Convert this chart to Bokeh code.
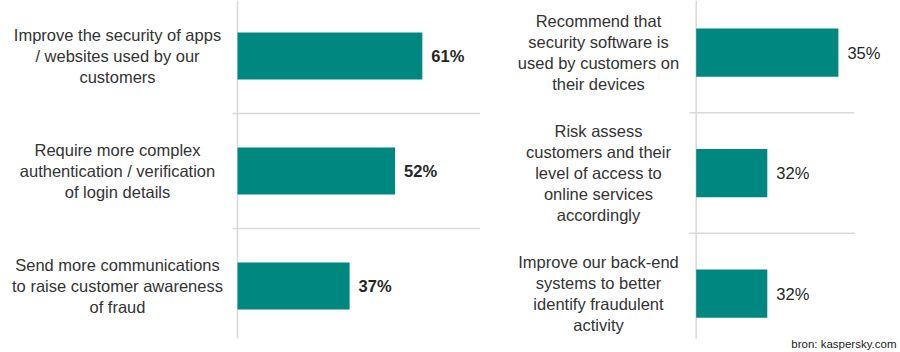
from bokeh.plotting import figure
from bokeh.layouts import row
from bokeh.models import Range1d, Label, ColumnDataSource
from bokeh.core.properties import value
from bokeh.embed import file_html
from bokeh.resources import INLINE

# ---- data ----
left_labels = [
    "Improve the security of apps\n/ websites used by our\ncustomers",
    "Require more complex\nauthentication / verification\nof login details",
    "Send more communications\nto raise customer awareness\nof fraud",
]
left_values = [61, 52, 37]

right_labels = [
    "Recommend that\nsecurity software is\nused by customers on\ntheir devices",
    "Risk assess\ncustomers and their\nlevel of access to\nonline services\naccordingly",
    "Improve our back-end\nsystems to better\nidentify fraudulent\nactivity",
]
right_values = [35, 32, 32]

source_note = "bron: kaspersky.com"

BAR = "#00877F"
GRID = "#D9D9D9"
TXT = "#333333"
VAL = "#262626"
FONT = "Liberation Sans"


def panel(labels, values, width, xr, yr, base, label_x, sep_x0, sep_x1, axis_y1,
          bar_h, val_style):
    p = figure(width=width, height=352, x_range=Range1d(*xr), y_range=Range1d(*yr),
               output_backend="svg", toolbar_location=None, min_border=0)
    p.axis.visible = False
    p.grid.visible = False
    p.outline_line_color = None
    p.background_fill_color = "white"
    p.border_fill_color = "white"
    idx = list(range(len(values)))
    src = ColumnDataSource(dict(y=idx, v=values, lab=labels,
                                vt=[f"{v}%" for v in values],
                                lx=[label_x] * len(values)))
    # separators between rows
    seps = [i + 0.5 for i in idx[:-1]]
    p.segment(x0=[sep_x0] * len(seps), x1=[sep_x1] * len(seps), y0=seps, y1=seps,
              line_color=GRID, line_width=1.5)
    # vertical axis line
    p.segment(x0=[base], x1=[base], y0=[yr[1]], y1=[axis_y1], line_color=GRID, line_width=1.5)
    p.hbar(y="y", left=base, right="v", height=bar_h, source=src, fill_color=BAR,
           line_color=None)
    p.text(x="v", y="y", text="vt", source=src, x_offset=9, text_baseline="middle",
           text_align="left", text_font=value(FONT), text_font_size="16.5px",
           text_font_style=val_style, text_color=VAL)
    p.text(x="lx", y="y", text="lab", source=src, text_align="center",
           text_baseline="middle", text_font=value(FONT), text_font_size="16.5px",
           text_color=TXT, text_line_height=1.16)
    return p


# left panel: 3.03 px per %, axis at 237 px
kL = 3.03
left = panel(left_labels, left_values, 480,
             (-237 / kL, (480 - 237) / kL),
             (2.578, -0.483), 0, (117 - 237) / kL, -5 / kL, (480 - 237) / kL,
             2.456, 0.41, "bold")

# right panel: axis at 215.7 px (local), 23.7 px per %
kR = 23.7
b = 29
right = panel(right_labels, right_values, 420,
              (b - 215.7 / kR, b + (420 - 215.7) / kR),
              (2.489, -0.432), b, b - 97.7 / kR, b - 6.7 / kR, b + 158.3 / kR,
              2.373, 0.40, "normal")
right.add_layout(Label(x=416, y=9, x_units="screen", y_units="screen", text=source_note,
                       text_align="right", text_baseline="middle",
                       text_font=FONT, text_font_size="11.5px", text_color="#222222"))

layout = row(left, right, spacing=0)
open("out.html", "w").write(file_html(layout, INLINE))
